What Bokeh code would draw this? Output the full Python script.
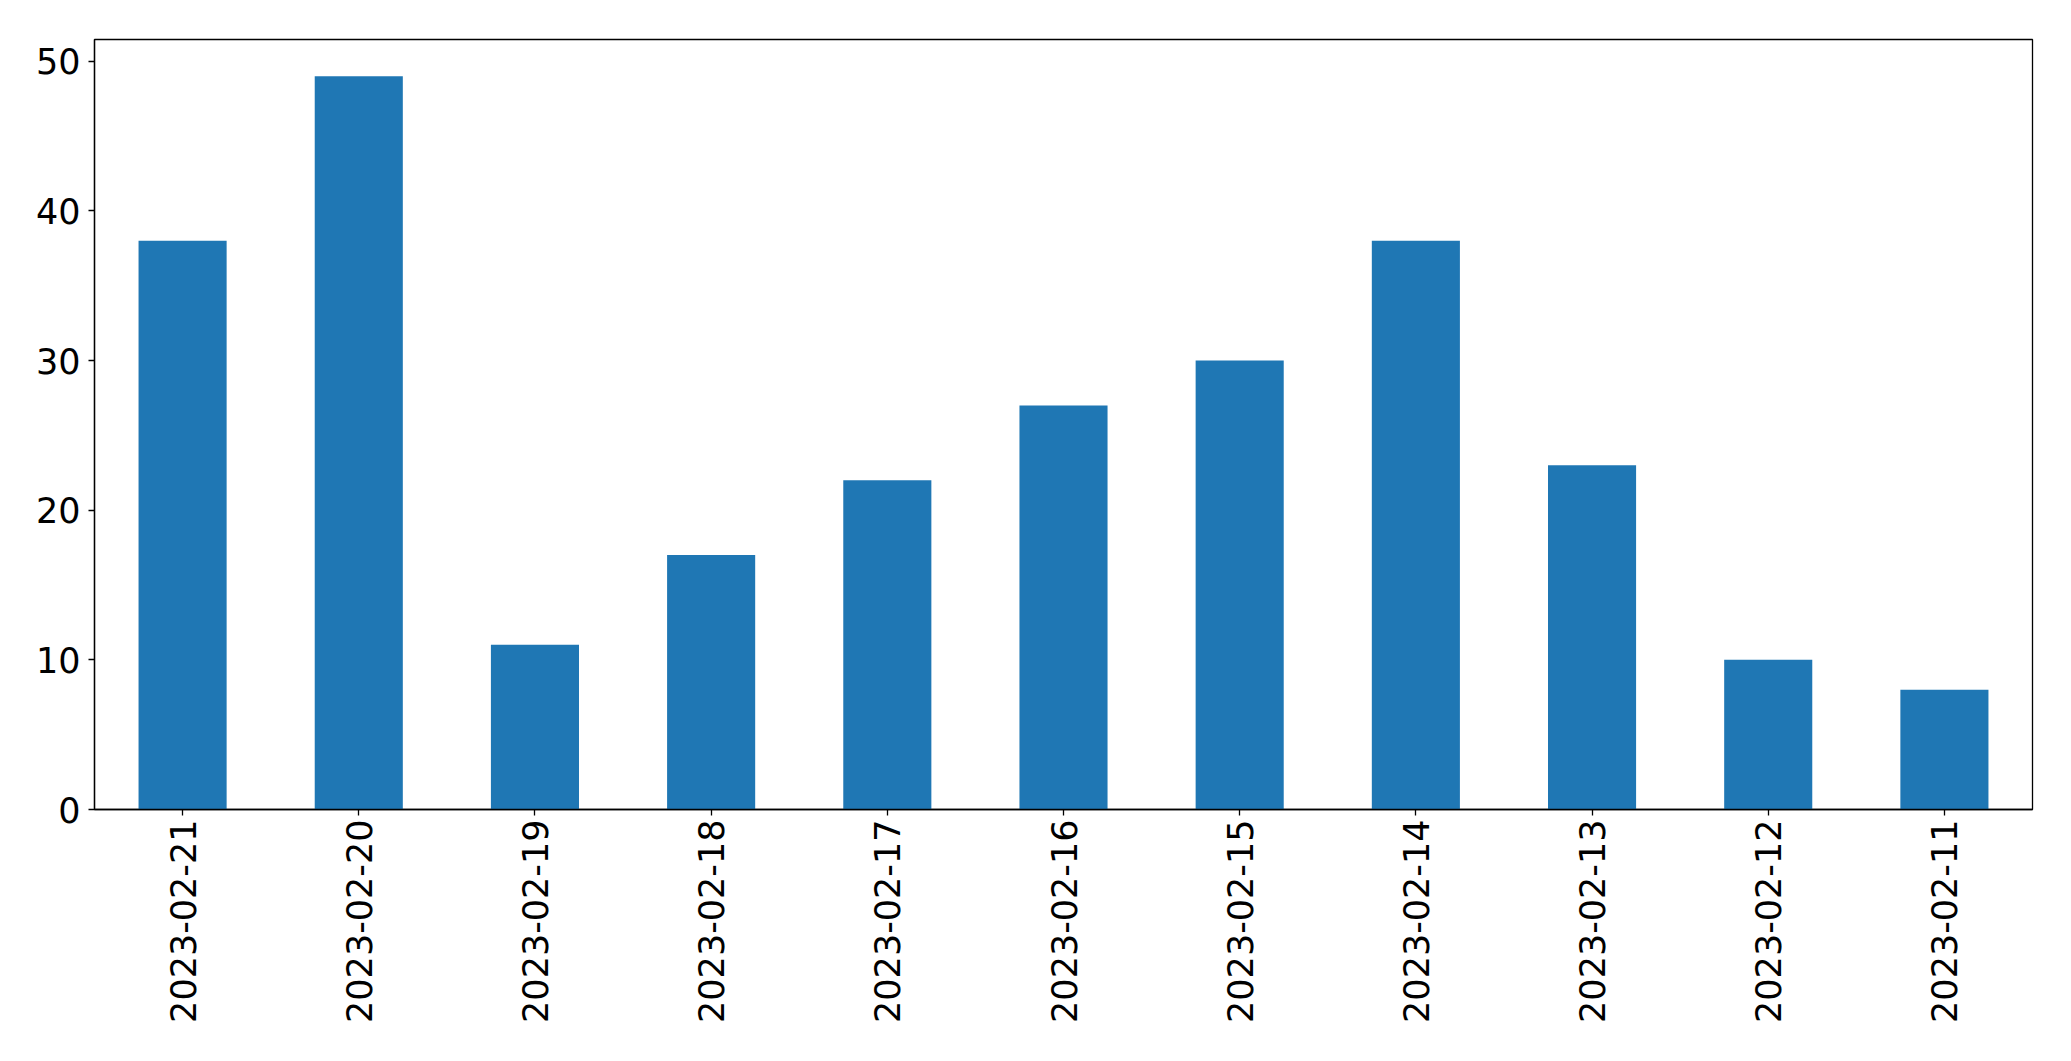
import math
from bokeh.plotting import figure
from bokeh.models import FactorRange, Range1d, FixedTicker
from bokeh.embed import file_html
from bokeh.resources import INLINE

dates = ["2023-02-21", "2023-02-20", "2023-02-19", "2023-02-18", "2023-02-17",
         "2023-02-16", "2023-02-15", "2023-02-14", "2023-02-13", "2023-02-12",
         "2023-02-11"]
counts = [38, 49, 11, 17, 22, 27, 30, 38, 23, 10, 8]
y_ticks = [0, 10, 20, 30, 40, 50]

p = figure(
    x_range=FactorRange(factors=dates, range_padding=0),
    y_range=Range1d(0, max(counts) * 1.05),
    width=2055, height=1045,
    output_backend="svg", toolbar_location=None,
    min_border_left=94, min_border_top=39, min_border_right=23, min_border_bottom=236,
)
p.vbar(x=dates, top=counts, width=0.5, color="#1f77b4", line_color=None)

p.xgrid.visible = False
p.ygrid.visible = False
p.outline_line_color = "black"
p.outline_line_width = 1.3
p.background_fill_color = "white"
p.border_fill_color = "white"

for ax in (p.xaxis[0], p.yaxis[0]):
    ax.axis_line_color = "black"
    ax.axis_line_width = 1.3
    ax.major_tick_line_color = "black"
    ax.major_tick_line_width = 1.3
    ax.major_tick_in = 0
    ax.major_tick_out = 6
    ax.minor_tick_line_color = None
    ax.major_label_text_font = "DejaVu Sans"
    ax.major_label_text_font_size = "35px"
    ax.major_label_text_color = "black"

p.yaxis[0].ticker = FixedTicker(ticks=y_ticks)
p.yaxis[0].major_label_standoff = 8
p.xaxis[0].major_label_orientation = math.pi / 2
p.xaxis[0].major_label_standoff = 4

open("out.html", "w").write(file_html(p, INLINE))
